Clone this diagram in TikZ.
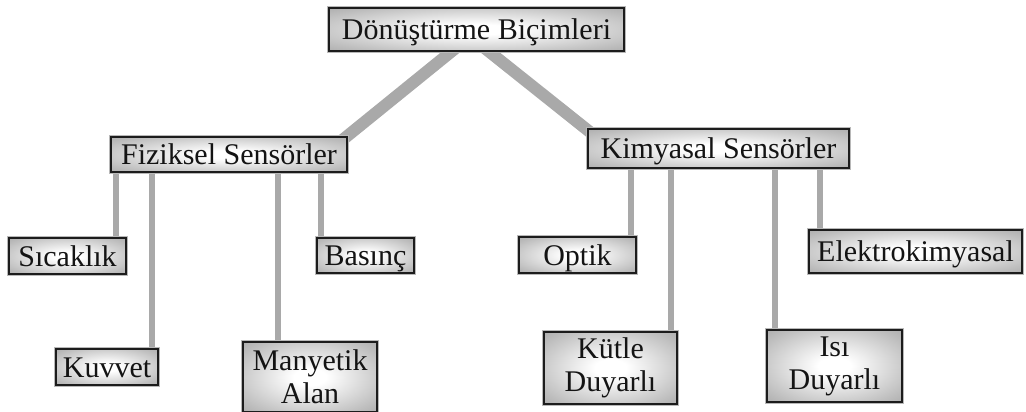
\documentclass[tikz,border=0pt]{standalone}
\usepackage{fontspec}
\setmainfont{Liberation Serif}
\usetikzlibrary{backgrounds}
\definecolor{connc}{HTML}{A9A9A9}
\definecolor{boxedge}{HTML}{1C1C1C}
\definecolor{txtc}{HTML}{141414}
\pgfdeclareradialshading{boxshade}{\pgfpoint{0bp}{0bp}}{color(0bp)=(white); color(6bp)=(white); color(30bp)=(black!26); color(50bp)=(black!46)}
\tikzset{
  box/.style={rectangle, inner sep=0pt, text=txtc,
    shading=boxshade,
    draw=boxedge, line width=2pt,
    preaction={draw=black!28, line width=4pt},
    font=\fontsize{30}{33}\selectfont, align=center},
  oneline/.style={box, text height=20.5pt, text depth=0pt},
  vconn/.style={draw=connc, line width=6pt},
  dconn/.style={draw=connc, line width=12pt}
}
\begin{document}
\begin{tikzpicture}[x=1pt,y=-1pt]
\useasboundingbox (0,0) rectangle (1026,412);
% nodes
\node[oneline, minimum width=295, minimum height=43] (top) at (476.5,29.5) {Dönüştürme Biçimleri};
\node[oneline, minimum width=236, minimum height=35] (fiz) at (229,154.5) {Fiziksel Sensörler};
\node[oneline, minimum width=261, minimum height=39] (kim) at (718.5,148.5) {Kimyasal Sensörler};
\node[oneline, minimum width=117, minimum height=36] (sic) at (67.5,256) {Sıcaklık};
\node[oneline, minimum width=97, minimum height=35] (bas) at (365.5,255.5) {Basınç};
\node[oneline, minimum width=102, minimum height=36] (kuv) at (107,367) {Kuvvet};
\node[box, minimum width=134, minimum height=70] (man) at (310,377) {Manyetik\\Alan};
\node[oneline, minimum width=117, minimum height=36] (opt) at (577.5,255) {Optik};
\node[oneline, minimum width=213, minimum height=43] (ele) at (915.5,251.5) {Elektrokimyasal};
\node[box, minimum width=133, minimum height=72] (kut) at (610.5,368) {Kütle\\Duyarlı};
\node[box, minimum width=135, minimum height=72] (isi) at (834.5,366) {Isı\\Duyarlı};
% connector x positions
\coordinate (x1) at (116,0);
\coordinate (x2) at (152,0);
\coordinate (x3) at (278,0);
\coordinate (x4) at (321,0);
\coordinate (x5) at (631,0);
\coordinate (x6) at (671,0);
\coordinate (x7) at (775,0);
\coordinate (x8) at (820,0);
\begin{scope}[on background layer]
\draw[dconn] ([shift={(1.5,0.5)}]top.center) -- ([shift={(101,-4.5)}]fiz.center);
\draw[dconn] ([shift={(-14.5,0.5)}]top.center) -- ([shift={(-108.5,-0.5)}]kim.center);
\draw[vconn] (fiz.center -| x1) -- (sic.center -| x1);
\draw[vconn] (fiz.center -| x2) -- (kuv.center -| x2);
\draw[vconn] (fiz.center -| x3) -- (man.center -| x3);
\draw[vconn] (fiz.center -| x4) -- (bas.center -| x4);
\draw[vconn] (kim.center -| x5) -- (opt.center -| x5);
\draw[vconn] (kim.center -| x6) -- (kut.center -| x6);
\draw[vconn] (kim.center -| x7) -- (isi.center -| x7);
\draw[vconn] (kim.center -| x8) -- (ele.center -| x8);
\end{scope}
\end{tikzpicture}
\end{document}
